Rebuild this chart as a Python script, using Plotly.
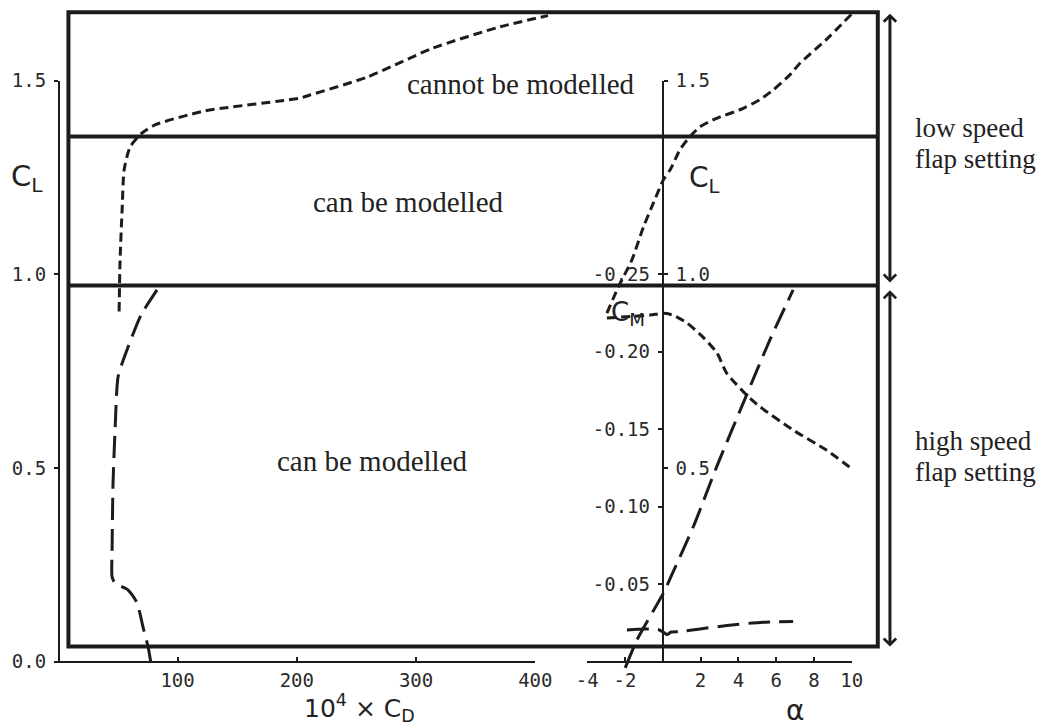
import plotly.graph_objects as go

# ---- drag polar, low-speed flap setting (10^4 * C_D vs C_L)
cd_low = [51.0, 51.8, 53.5, 55.2, 60.2, 70.2, 81.1, 123.0, 202.7, 211.0, 258.8, 314.0, 370.3, 410.6]
cl_low = [0.904, 1.037, 1.166, 1.270, 1.329, 1.365, 1.386, 1.422, 1.455, 1.463, 1.509, 1.584, 1.639, 1.668]

# ---- drag polar, high-speed flap setting
cd_high = [82.8, 69.4, 56.0, 50.1, 47.6, 45.9, 45.1, 45.1, 47.6, 58.5, 66.0, 71.0, 75.3, 78.6]
cl_high = [0.960, 0.895, 0.792, 0.735, 0.598, 0.461, 0.288, 0.219, 0.203, 0.185, 0.152, 0.090, 0.038, -0.021]

# ---- lift curve vs alpha, low-speed flap setting
alpha_cl_low = [-2.96, -2.35, -1.64, -1.02, -0.50, 0.03, 0.39, 0.91, 1.35, 1.97, 2.85, 4.08, 5.14, 5.84, 6.73, 7.26, 8.63, 10.0]
cl_alpha_low = [0.900, 0.968, 1.037, 1.123, 1.184, 1.244, 1.270, 1.322, 1.351, 1.381, 1.403, 1.425, 1.451, 1.476, 1.515, 1.545, 1.605, 1.672]

# ---- pitching moment vs alpha, low-speed flap setting
alpha_cm_low = [-2.96, -0.67, 0.02, 0.54, 1.28, 2.13, 2.87, 3.38, 4.44, 5.14, 6.90, 8.66, 9.98]
cm_alpha_low = [-0.2218, -0.2237, -0.2248, -0.2237, -0.2186, -0.2095, -0.1992, -0.1863, -0.1721, -0.1646, -0.1495, -0.1366, -0.1248]

# ---- lift curve vs alpha, high-speed flap setting
alpha_cl_high = [-1.99, -1.37, 0.03, 0.39, 1.62, 2.85, 4.44, 5.67, 6.90]
cl_alpha_high = [-0.016, 0.056, 0.177, 0.215, 0.349, 0.503, 0.689, 0.831, 0.960]

# ---- pitching moment vs alpha, high-speed flap setting
alpha_cm_high = [-1.90, -0.94, -0.25, 0.02, 0.23, 0.44, 0.91, 1.97, 3.40, 5.14, 6.90]
cm_alpha_high = [-0.0205, -0.0212, -0.0208, -0.0192, -0.0176, -0.0192, -0.0195, -0.0212, -0.0234, -0.0254, -0.0260]

# ---- region boundaries (C_L) and frame extent (10^4 C_D)
region_cl = [0.039, 0.971, 1.356, 1.677]
frame_cd = [8.5, 687.2]
arrow_cd = 697.4

# ---- tick values
cd_ticks = [100, 200, 300, 400]
alpha_ticks = [-4, -2, 0, 2, 4, 6, 8, 10]
alpha_ticktext = ["-4", "-2", "", "2", "4", "6", "8", "10"]
cl_ticks = [0.0, 0.5, 1.0, 1.5]
cl_ticktext = ["0.0", "0.5", "1.0", "1.5"]
cm_ticks = [-0.05, -0.10, -0.15, -0.20, -0.25]
cm_ticktext = ["-0.05", "-0.10", "-0.15", "-0.20", "-0.25"]

W, H = 1047, 727
INK = "#1c1c1c"
TICKFONT = dict(family="DejaVu Sans Mono", size=19, color="#2a2a2a")
SERIF = "Liberation Serif"
SANS = "DejaVu Sans"

SHORT = "9px,5px"
LONG = "22px,9px"

fig = go.Figure()


def line(x, y, dash, xa="x", ya="y"):
    fig.add_trace(go.Scatter(
        x=x, y=y, mode="lines", xaxis=xa, yaxis=ya,
        line=dict(color=INK, width=3, dash=dash, shape="spline", smoothing=0.6),
        showlegend=False, hoverinfo="skip"))


line(cd_low, cl_low, SHORT)
line(cd_high, cl_high, LONG)
line(alpha_cl_low, cl_alpha_low, SHORT, "x2", "y")
line(alpha_cm_low, cm_alpha_low, SHORT, "x2", "y2")
line(alpha_cl_high, cl_alpha_high, LONG, "x2", "y")
line(alpha_cm_high, cm_alpha_high, LONG, "x2", "y2")

# empty traces so the scale axes get their own subplots
for xa, ya in [("x3", "y3"), ("x4", "y4"), ("x4", "y5")]:
    fig.add_trace(go.Scatter(x=[None], y=[None], xaxis=xa, yaxis=ya,
                             showlegend=False, hoverinfo="skip"))

# pixel -> data mappings of the full-frame plotting axes
cd0_px, cd_scale = 58.3, 1.1925
cl0_px, cl_scale = 661.7, 387.33
a0_px, a_scale = 662.8, 18.886
cm0_px, cm_scale = 661.8, 1550.0

hidden = dict(visible=False, showgrid=False, zeroline=False, domain=[0, 1],
              automargin=False, fixedrange=True)
fig.update_layout(
    xaxis=dict(hidden, range=[-cd0_px / cd_scale, (W - cd0_px) / cd_scale]),
    yaxis=dict(hidden, range=[(cl0_px - H) / cl_scale, cl0_px / cl_scale]),
    xaxis2=dict(hidden, overlaying="x", range=[-a0_px / a_scale, (W - a0_px) / a_scale]),
    yaxis2=dict(hidden, overlaying="y", range=[(H - cm0_px) / cm_scale, -cm0_px / cm_scale]),
)


def fx(px):
    return px / W


def fy(py):
    return (H - py) / H


axis_style = dict(showline=True, linecolor=INK, linewidth=2, showgrid=False, zeroline=False,
                  ticks="outside", ticklen=4, tickwidth=1.5, tickcolor=INK, tickfont=TICKFONT,
                  ticklabelstandoff=4, anchor="free", fixedrange=True, automargin=False)
x_axis_style = dict(axis_style, ticks="inside", ticklabelstandoff=1)

base_y = fy(662)
fig.update_layout(
    xaxis3=dict(x_axis_style, domain=[fx(cd0_px), fx(cd0_px + 400 * cd_scale)], range=[0, 400],
                position=base_y, tickvals=cd_ticks, ticktext=[str(v) for v in cd_ticks]),
    yaxis3=dict(axis_style, domain=[fy(cl0_px), fy(cl0_px - 1.5 * cl_scale)], range=[0, 1.5],
                position=fx(59), tickvals=cl_ticks, ticktext=cl_ticktext),
    xaxis4=dict(x_axis_style, domain=[fx(a0_px - 4 * a_scale), fx(a0_px + 10 * a_scale)], range=[-4, 10],
                position=base_y, tickvals=alpha_ticks, ticktext=alpha_ticktext),
    yaxis4=dict(axis_style, domain=[fy(cl0_px), fy(cl0_px - 1.5 * cl_scale)], range=[0, 1.5],
                position=fx(a0_px), side="right", tickvals=cl_ticks[1:], ticktext=cl_ticktext[1:]),
    yaxis5=dict(axis_style, domain=[fy(cm0_px), fy(cm0_px - 0.25 * cm_scale)], range=[0, -0.25],
                position=fx(a0_px), side="left", tickvals=cm_ticks, ticktext=cm_ticktext),
)

# frame and region boundaries
fig.add_shape(type="rect", xref="x", yref="y", x0=frame_cd[0], x1=frame_cd[1],
              y0=region_cl[0], y1=region_cl[3], line=dict(color=INK, width=4))
for c in region_cl[1:3]:
    fig.add_shape(type="line", xref="x", yref="y", x0=frame_cd[0], x1=frame_cd[1],
                  y0=c, y1=c, line=dict(color=INK, width=4))

# flap-setting range arrows
arrow_spans = [(region_cl[1] + 0.008, region_cl[3]), (region_cl[0], region_cl[1] - 0.008)]
for lo, hi in arrow_spans:
    fig.add_annotation(x=arrow_cd, y=lo, ax=arrow_cd, ay=hi, xref="x", yref="y",
                       axref="x", ayref="y", text="", showarrow=True,
                       arrowhead=4, startarrowhead=4, arrowside="end+start",
                       arrowsize=0.8, startarrowsize=0.8, arrowwidth=3, arrowcolor=INK)


def label(text, px, py, size, family=SERIF, xanchor="center"):
    fig.add_annotation(x=fx(px), y=fy(py), xref="paper", yref="paper", text=text,
                       showarrow=False, xanchor=xanchor, yanchor="middle",
                       font=dict(family=family, size=size, color="#222222"))


label("cannot be modelled", 521, 84, 29)
label("can be modelled", 408, 202, 29)
label("can be modelled", 372, 461, 29)
label("low speed", 913, 128, 27, xanchor="left")
label("flap setting", 913, 159, 27, xanchor="left")
label("high speed", 913, 441, 27, xanchor="left")
label("flap setting", 913, 472, 27, xanchor="left")

label("C<sub>L</sub>", 27, 178, 29, SANS)
label("C<sub>L</sub>", 704, 180, 28, SANS)
label("C<sub>M</sub>", 628, 313, 26, SANS)
label("10<sup>4</sup> × C<sub>D</sub>", 359, 708, 25, SANS)
label("α", 795, 710, 28, SANS)

fig.update_layout(template="none", width=W, height=H, autosize=False,
                  margin=dict(l=0, r=0, t=0, b=0, pad=0),
                  paper_bgcolor="white", plot_bgcolor="rgba(0,0,0,0)")

fig.write_html("out.html")
